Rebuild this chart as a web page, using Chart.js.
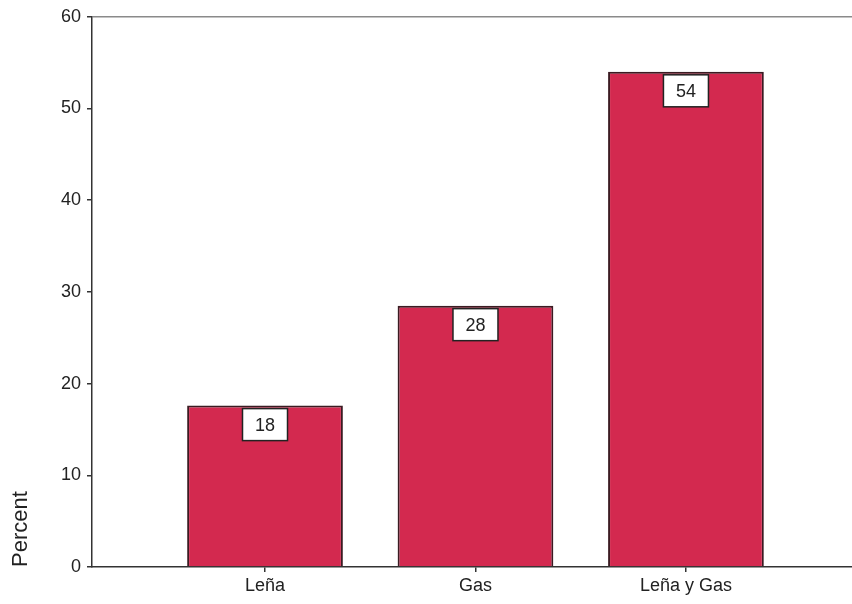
<!DOCTYPE html>
<html>
<head>
<meta charset="utf-8">
<script src="https://cdn.jsdelivr.net/npm/chart.js@4"></script>
<style>
  html, body { margin: 0; padding: 0; background: #fff; }
  #wrap { width: 852px; height: 604px; }
</style>
</head>
<body>
<div id="wrap"><canvas id="fuelChart"></canvas></div>
<script>
const categories = ['Leña', 'Gas', 'Leña y Gas'];
const percents = [17.6, 28.5, 54.0];
const valueLabels = ['18', '28', '54'];
const yTicks = [0, 10, 20, 30, 40, 50, 60];

// white boxed value labels just under the top of each bar
const boxLabels = {
  id: 'boxLabels',
  afterDatasetsDraw(chart) {
    const ctx = chart.ctx;
    chart.getDatasetMeta(0).data.forEach((bar, i) => {
      const w = 45, h = 32, top = bar.y + 3;
      ctx.save();
      ctx.fillStyle = '#fff';
      ctx.strokeStyle = '#222';
      ctx.lineWidth = 1.5;
      ctx.fillRect(bar.x - w / 2, top, w, h);
      ctx.strokeRect(bar.x - w / 2, top, w, h);
      ctx.fillStyle = '#222';
      ctx.font = '18px "Liberation Sans", Arial, sans-serif';
      ctx.textAlign = 'center';
      ctx.textBaseline = 'middle';
      ctx.fillText(valueLabels[i], bar.x, top + h / 2 + 1);
      ctx.restore();
    });
  }
};

const fuelChart = new Chart(document.getElementById('fuelChart').getContext('2d'), {
  type: 'bar',
  data: {
    datasets: [{
      data: percents.map((v, i) => ({ x: i, y: v })),
      backgroundColor: '#d3294f',
      borderColor: '#3b1b22',
      borderWidth: 2,
      barPercentage: 0.74,
      categoryPercentage: 1
    }]
  },
  options: {
    responsive: true,
    maintainAspectRatio: false,
    animation: false,
    layout: { padding: { top: 14, right: 0, bottom: 0, left: 0 } },
    plugins: { legend: { display: false }, tooltip: { enabled: false } },
    scales: {
      x: {
        type: 'linear',
        offset: false,
        min: -0.822,
        max: 2.789,
        afterBuildTicks: s => { s.ticks = categories.map((c, i) => ({ value: i })); },
        afterFit: s => { s.height = 37; },
        ticks: {
          callback: v => categories[v],
          color: '#222',
          padding: 3,
          maxRotation: 0,
          font: { family: '"Liberation Sans", Arial, sans-serif', size: 18 }
        },
        grid: { offset: false, drawOnChartArea: false, color: '#333', tickLength: 5, lineWidth: 1.5 },
        border: { color: '#333', width: 1.5 }
      },
      y: {
        min: 0,
        max: 60,
        afterBuildTicks: s => { s.ticks = yTicks.map(v => ({ value: v })); },
        afterFit: s => { s.width = 92; },
        ticks: {
          color: '#222',
          padding: 6,
          font: { family: '"Liberation Sans", Arial, sans-serif', size: 18 }
        },
        grid: {
          color: c => (c.tick && c.tick.value === 60 ? '#8a8a8a' : 'transparent'),
          tickColor: '#333',
          tickLength: 5,
          lineWidth: 1.5
        },
        border: { color: '#333', width: 1.5 },
        title: {
          display: true,
          text: 'Percent',
          align: 'start',
          color: '#222',
          padding: { top: 8, bottom: 0 },
          font: { family: '"Liberation Sans", Arial, sans-serif', size: 22 }
        }
      }
    }
  },
  plugins: [boxLabels]
});
</script>
</body>
</html>
